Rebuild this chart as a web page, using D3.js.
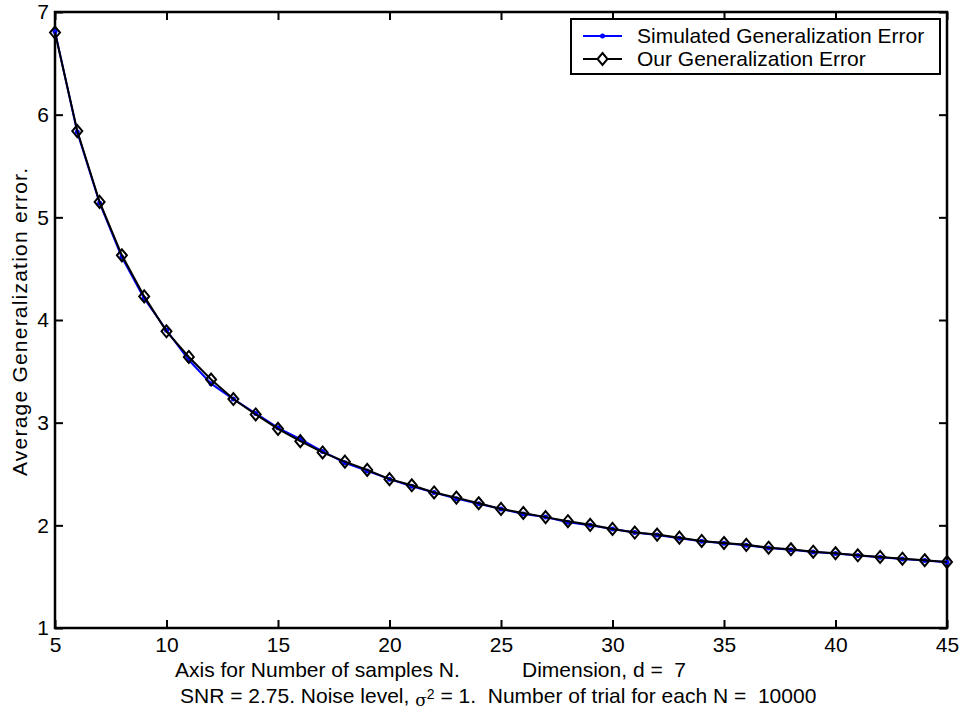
<!DOCTYPE html>
<html>
<head>
<meta charset="utf-8">
<script src="https://d3js.org/d3.v7.min.js"></script>
<style>
  body { margin: 0; background: #fff; }
  text { font-family: "Liberation Sans", Arial, sans-serif; fill: #000; white-space: pre; }
</style>
</head>
<body>
<div id="chart"></div>
<script>
// number of samples N
var samples = [5, 6, 7, 8, 9, 10, 11, 12, 13, 14, 15, 16, 17, 18, 19, 20, 21, 22, 23, 24, 25,
               26, 27, 28, 29, 30, 31, 32, 33, 34, 35, 36, 37, 38, 39, 40, 41, 42, 43, 44, 45];
var simulated = [6.81, 5.83, 5.14, 4.61, 4.21, 3.90, 3.61, 3.38, 3.23, 3.09, 2.95, 2.84, 2.72, 2.61,
                 2.53, 2.45, 2.38, 2.32, 2.26, 2.21, 2.16, 2.11, 2.08, 2.03, 2.00, 1.965, 1.93, 1.905,
                 1.875, 1.845, 1.825, 1.805, 1.78, 1.762, 1.74, 1.725, 1.705, 1.69, 1.673, 1.658, 1.64];
var ours = [6.80, 5.84, 5.15, 4.63, 4.23, 3.89, 3.64, 3.42, 3.23, 3.08, 2.94, 2.82, 2.71, 2.62,
            2.54, 2.45, 2.39, 2.32, 2.27, 2.215, 2.16, 2.12, 2.08, 2.04, 2.005, 1.965, 1.93, 1.91,
            1.88, 1.848, 1.828, 1.81, 1.782, 1.767, 1.743, 1.728, 1.708, 1.692, 1.675, 1.66, 1.643];
var xTicks = [5, 10, 15, 20, 25, 30, 35, 40, 45];
var yTicks = [1, 2, 3, 4, 5, 6, 7];
var legendNames = ["Simulated Generalization Error", "Our Generalization Error"];

var width = 962, height = 713;
var mLeft = 55, mRight = 947, mTop = 12, mBottom = 628;
var tickLen = 8;

var svg = d3.select("#chart").append("svg")
    .attr("width", width)
    .attr("height", height);

svg.append("rect").attr("width", width).attr("height", height).attr("fill", "#fff");

var x = d3.scaleLinear().domain([5, 45]).range([mLeft, mRight]);
var y = d3.scaleLinear().domain([1, 7]).range([mBottom, mTop]);

function styleAxis(g) {
    g.select(".domain").remove();
    g.selectAll("line").attr("stroke", "#000").attr("stroke-width", 2);
    g.selectAll("text").attr("font-size", 21).attr("font-family", "Liberation Sans, Arial, sans-serif").attr("fill", "#000");
}

// axes: bottom and left carry the labels, top and right only ticks (all inward)
svg.append("g")
    .attr("transform", "translate(0," + mBottom + ")")
    .call(d3.axisBottom(x).tickValues(xTicks).tickFormat(d3.format("d"))
        .tickSizeInner(-tickLen).tickSizeOuter(0).tickPadding(9))
    .call(styleAxis);

svg.append("g")
    .attr("transform", "translate(" + mLeft + ",0)")
    .call(d3.axisLeft(y).tickValues(yTicks).tickFormat(d3.format("d"))
        .tickSizeInner(-tickLen).tickSizeOuter(0).tickPadding(6))
    .call(styleAxis);

svg.append("g")
    .attr("transform", "translate(0," + mTop + ")")
    .call(d3.axisTop(x).tickValues(xTicks).tickSizeInner(-tickLen).tickSizeOuter(0).tickFormat(""))
    .call(styleAxis);

svg.append("g")
    .attr("transform", "translate(" + mRight + ",0)")
    .call(d3.axisRight(y).tickValues(yTicks).tickSizeInner(-tickLen).tickSizeOuter(0).tickFormat(""))
    .call(styleAxis);

// box
svg.append("rect")
    .attr("x", mLeft).attr("y", mTop)
    .attr("width", mRight - mLeft).attr("height", mBottom - mTop)
    .attr("fill", "none").attr("stroke", "#000").attr("stroke-width", 2.5);

var line = d3.line();

var simPts = samples.map(function(n, i) { return [x(n), y(simulated[i])]; });
var ourPts = samples.map(function(n, i) { return [x(n), y(ours[i])]; });

var diamond = function(cx, cy) {
    return "M" + cx + "," + (cy - 6) + "L" + (cx + 5) + "," + cy + "L" + cx + "," + (cy + 6) + "L" + (cx - 5) + "," + cy + "Z";
};

// simulated (blue, dot markers)
svg.append("path").attr("d", line(simPts))
    .attr("fill", "none").attr("stroke", "#0000ff").attr("stroke-width", 2);
svg.append("g").selectAll("circle").data(simPts).join("circle")
    .attr("cx", function(d) { return d[0]; })
    .attr("cy", function(d) { return d[1]; })
    .attr("r", 2.5).attr("fill", "#0000ff");

// ours (black, diamond markers)
svg.append("path").attr("d", line(ourPts))
    .attr("fill", "none").attr("stroke", "#000").attr("stroke-width", 2);
svg.append("g").selectAll("path").data(ourPts).join("path")
    .attr("d", function(d) { return diamond(d[0], d[1]); })
    .attr("fill", "none").attr("stroke", "#000").attr("stroke-width", 2);

// legend
var lg = svg.append("g");
lg.append("rect").attr("x", 571).attr("y", 19).attr("width", 369).attr("height", 55)
    .attr("fill", "#fff").attr("stroke", "#000").attr("stroke-width", 2);
var rowY = [36, 59];
lg.append("line").attr("x1", 583).attr("x2", 622).attr("y1", rowY[0]).attr("y2", rowY[0])
    .attr("stroke", "#0000ff").attr("stroke-width", 2);
lg.append("circle").attr("cx", 602.5).attr("cy", rowY[0]).attr("r", 2.5).attr("fill", "#0000ff");
lg.append("line").attr("x1", 583).attr("x2", 622).attr("y1", rowY[1]).attr("y2", rowY[1])
    .attr("stroke", "#000").attr("stroke-width", 2);
lg.append("path").attr("d", diamond(602.5, rowY[1]))
    .attr("fill", "#fff").attr("stroke", "#000").attr("stroke-width", 2);
lg.selectAll("text.lab").data(legendNames).join("text")
    .attr("class", "lab")
    .attr("x", 637)
    .attr("y", function(d, i) { return rowY[i] + 7; })
    .attr("font-size", 21)
    .text(function(d) { return d; });

// axis labels
svg.append("text")
    .attr("transform", "translate(27,322) rotate(-90)")
    .attr("text-anchor", "middle")
    .attr("font-size", 21)
    .attr("textLength", 308)
    .attr("lengthAdjust", "spacing")
    .text("Average Generalization error.");

svg.append("text").attr("x", 175).attr("y", 677).attr("font-size", 21)
    .text("Axis for Number of samples N.");
svg.append("text").attr("x", 522).attr("y", 677).attr("font-size", 21)
    .text("Dimension, d =  7");

var l2 = svg.append("text").attr("x", 180).attr("y", 703).attr("font-size", 21);
l2.append("tspan").text("SNR = 2.75. Noise level, ");
l2.append("tspan").attr("dy", 3).attr("font-size", 17).attr("font-family", "DejaVu Serif, serif").text("σ");
l2.append("tspan").attr("dy", -7).attr("font-size", 14).text("2");
l2.append("tspan").attr("dy", 4).text(" = 1.  Number of trial for each N =  10000");
</script>
</body>
</html>
